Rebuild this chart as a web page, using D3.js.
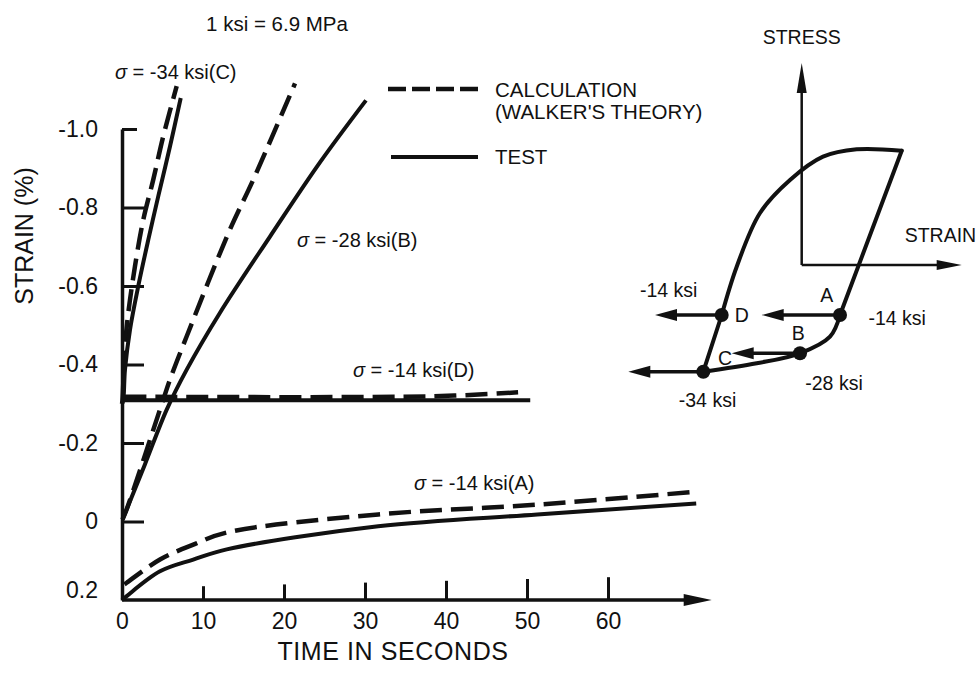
<!DOCTYPE html>
<html>
<head>
<meta charset="utf-8">
<script src="https://cdn.jsdelivr.net/npm/d3@7/dist/d3.min.js"></script>
<style>
  body { margin: 0; background: #fff; }
  svg text { font-family: "Liberation Sans", Arial, sans-serif; fill: #111; }
</style>
</head>
<body>
<div id="chart-container"></div>
<script>
// readings: [time (s), strain (%)], compressive strain is negative
const cTest = [[0, -0.30], [0.16, -0.311], [0.37, -0.387], [0.99, -0.489], [2.01, -0.600], [3.25, -0.718], [4.48, -0.829], [5.93, -0.956], [7.25, -1.079]]
const cCalc = [[0, -0.30], [0.06, -0.31], [0.37, -0.447], [0.78, -0.532], [1.60, -0.650], [2.63, -0.769], [3.86, -0.871], [5.10, -0.982], [6.75, -1.109]]
const bTest = [[0.06, -0.005], [0.58, -0.031], [2.84, -0.146], [5.52, -0.285], [7.99, -0.387], [12.10, -0.532], [18.27, -0.726], [24.44, -0.915], [30.12, -1.073]]
const bCalc = [[0.06, -0.005], [0.58, -0.031], [5.10, -0.311], [5.93, -0.362], [7.99, -0.472], [13.33, -0.744], [16.21, -0.871], [21.36, -1.116]]
const dTest = [[0, -0.309], [50.4, -0.309]]
const dCalc = [[0.3, -0.318], [38.4, -0.319], [48.9, -0.329]]
const aTest = [[0, 0.200], [0.58, 0.190], [4.69, 0.127], [8.80, 0.097], [12.93, 0.071], [31.63, 0.012], [51.26, -0.018], [70.89, -0.046]]
const aCalc = [[0.3, 0.160], [0.58, 0.156], [4.69, 0.097], [8.80, 0.059], [12.93, 0.028], [31.63, -0.018], [51.26, -0.043], [70.89, -0.076]]

const xTicks = [0, 10, 20, 30, 40, 50, 60]
const yTicks = [0.2, 0, -0.2, -0.4, -0.6, -0.8, -1.0]

// inset hysteresis loop, schematic [strain, stress] units
const loopCD = [[-9.84, -10.67], [-8.0, -5.0]]
const loopUpper = [[-8.0, -5.0], [-6.5, -0.17], [-4.17, 5.2], [-1.17, 8.5], [2.13, 10.83], [5.5, 11.57], [10.0, 11.43]]
const loopUnload = [[10.0, 11.43], [3.83, -5.0]]
const loopLower = [[3.83, -5.0], [2.83, -7.17], [-0.17, -8.83], [-4.5, -9.83], [-9.84, -10.67]]
const holdNames = ['A', 'B', 'C', 'D']
const holdPoints = [[3.83, -5.0], [-0.17, -8.83], [-9.84, -10.67], [-8.0, -5.0]]
const holdArrowEnds = [-4.0, -7.0, -17.34, -14.67]

const width = 980
const height = 674

const svg = d3.select('#chart-container')
  .append('svg')
  .attr('width', width)
  .attr('height', height)

const x = d3.scaleLinear().domain([0, 60]).range([122, 608])
const y = d3.scaleLinear().domain([0.2, -1.0]).range([600, 129])

const line = d3.line()
  .x(d => x(d[0]))
  .y(d => y(d[1]))
  .curve(d3.curveCatmullRom.alpha(0.5))

function arrowHead (g, tipX, tipY, dir, len, half) {
  // dir: 'left' | 'right' | 'up'
  let pts
  if (dir === 'right') pts = [[tipX, tipY], [tipX - len, tipY - half], [tipX - len, tipY + half]]
  else if (dir === 'left') pts = [[tipX, tipY], [tipX + len, tipY - half], [tipX + len, tipY + half]]
  else pts = [[tipX, tipY], [tipX - half, tipY + len], [tipX + half, tipY + len]]
  g.append('path')
    .attr('class', 'head')
    .attr('d', 'M' + pts.join('L') + 'Z')
    .attr('fill', '#111')
    .attr('stroke', 'none')
}

// ---- axes
const yAxis = d3.axisLeft(y)
  .tickValues(yTicks)
  .tickSizeInner(-22)
  .tickSizeOuter(0)
  .tickPadding(24)
  .tickFormat(d => d === 0 ? '0' : d.toFixed(1))

const gy = svg.append('g')
  .attr('transform', 'translate(122,0)')
  .call(yAxis)
gy.select('.domain').attr('stroke', '#111').attr('stroke-width', 3.5)
gy.selectAll('.tick line').attr('stroke', '#111').attr('stroke-width', 3)
gy.selectAll('.tick').filter(d => d === -1.0).select('line').attr('x2', 15)
gy.selectAll('.tick text')
  .attr('font-size', 23)
  .attr('font-family', '"Liberation Sans", Arial, sans-serif')
  .attr('fill', '#111')
gy.selectAll('.tick').filter(d => d === 0.2).select('text').attr('y', -10)
gy.selectAll('.tick').filter(d => d === 0.2).select('line').remove()

const xAxis = d3.axisBottom(x)
  .tickValues(xTicks)
  .tickSizeInner(-15)
  .tickSizeOuter(0)
  .tickPadding(13)
  .tickFormat(d3.format('d'))

const gx = svg.append('g')
  .attr('transform', 'translate(0,600)')
  .call(xAxis)
gx.select('.domain').remove()
gx.selectAll('.tick line')
  .attr('stroke', '#111').attr('stroke-width', 3)
  .attr('y2', (d, i) => -(12 + i * 1.8))
gx.selectAll('.tick').filter(d => d === 0).select('line').remove()
gx.selectAll('.tick text')
  .attr('font-size', 23)
  .attr('font-family', '"Liberation Sans", Arial, sans-serif')
  .attr('fill', '#111')

const xEnd = 72.8
svg.append('line')
  .attr('x1', x(0)).attr('x2', x(xEnd) - 20)
  .attr('y1', y(0.2)).attr('y2', y(0.2))
  .attr('stroke', '#111').attr('stroke-width', 3.5)
arrowHead(svg, x(xEnd), y(0.2), 'right', 28, 6)

svg.append('text')
  .attr('transform', 'translate(24,236) rotate(-90)')
  .attr('text-anchor', 'middle')
  .attr('dominant-baseline', 'central')
  .attr('font-size', 25)
  .text('STRAIN (%)')

svg.append('text')
  .attr('x', 393).attr('y', 651)
  .attr('text-anchor', 'middle')
  .attr('dominant-baseline', 'central')
  .attr('font-size', 25)
  .attr('letter-spacing', 0.6)
  .text('TIME IN SECONDS')

// ---- curves
const curves = [
  {data: aCalc, dash: true}, {data: aTest, dash: false},
  {data: dCalc, dash: true}, {data: dTest, dash: false},
  {data: bCalc, dash: true}, {data: bTest, dash: false},
  {data: cCalc, dash: true}, {data: cTest, dash: false}
]

svg.append('g').selectAll('path')
  .data(curves)
  .enter()
  .append('path')
  .attr('d', d => line(d.data))
  .attr('fill', 'none')
  .attr('stroke', '#111')
  .attr('stroke-width', d => d.dash ? 4.5 : 4)
  .attr('stroke-dasharray', d => d.dash ? '22,9' : null)

// ---- labels
function sigmaLabel (px, py, rest) {
  const t = svg.append('text')
    .attr('x', px).attr('y', py)
    .attr('dominant-baseline', 'central')
    .attr('font-size', 20)
  t.append('tspan').attr('font-style', 'italic').text('σ')
  t.append('tspan').text(' = ' + rest)
}
sigmaLabel(115, 72, '-34 ksi(C)')
sigmaLabel(297, 240, '-28 ksi(B)')
sigmaLabel(353, 370, '-14 ksi(D)')
sigmaLabel(414, 483, '-14 ksi(A)')

svg.append('text')
  .attr('x', 277).attr('y', 23)
  .attr('text-anchor', 'middle')
  .attr('dominant-baseline', 'central')
  .attr('font-size', 20.5)
  .text('1 ksi = 6.9 MPa')

// ---- legend
svg.append('line')
  .attr('x1', 388).attr('x2', 478).attr('y1', 89).attr('y2', 89)
  .attr('stroke', '#111').attr('stroke-width', 4.5)
  .attr('stroke-dasharray', '18,6')
svg.append('line')
  .attr('x1', 391).attr('x2', 478).attr('y1', 157).attr('y2', 157)
  .attr('stroke', '#111').attr('stroke-width', 4)

const legendText = [['CALCULATION', 89], ["(WALKER'S THEORY)", 111], ['TEST', 156]]
svg.selectAll('.legtext')
  .data(legendText)
  .enter()
  .append('text')
  .attr('class', 'legtext')
  .attr('x', 495)
  .attr('y', d => d[1])
  .attr('dominant-baseline', 'central')
  .attr('font-size', 20.5)
  .text(d => d[0])

// ---- inset: hysteresis loop
const ix = d3.scaleLinear().domain([0, 10]).range([801.7, 901.7])
const iy = d3.scaleLinear().domain([0, 10]).range([265, 165])
const inset = svg.append('g')

inset.append('line')
  .attr('x1', ix(0)).attr('x2', ix(0))
  .attr('y1', iy(0)).attr('y2', iy(20.2) + 20)
  .attr('stroke', '#111').attr('stroke-width', 2.5)
arrowHead(inset, ix(0), iy(20.2), 'up', 30, 5)
inset.append('line')
  .attr('x1', ix(0)).attr('x2', ix(16) - 20)
  .attr('y1', iy(0)).attr('y2', iy(0))
  .attr('stroke', '#111').attr('stroke-width', 2.5)
arrowHead(inset, ix(16), iy(0), 'right', 25, 5)

const iLine = d3.line().x(d => ix(d[0])).y(d => iy(d[1]))
const iCurve = d3.line().x(d => ix(d[0])).y(d => iy(d[1])).curve(d3.curveCatmullRom.alpha(0.5))
const loopPaths = [iLine(loopCD), iCurve(loopUpper), iLine(loopUnload), iCurve(loopLower)]
inset.selectAll('.loop')
  .data(loopPaths)
  .enter()
  .append('path')
  .attr('class', 'loop')
  .attr('d', d => d)
  .attr('fill', 'none').attr('stroke', '#111')
  .attr('stroke-width', 4).attr('stroke-linejoin', 'round').attr('stroke-linecap', 'round')

holdPoints.forEach((p, i) => {
  const endX = ix(holdArrowEnds[i])
  inset.append('line')
    .attr('x1', ix(p[0])).attr('x2', endX + 18)
    .attr('y1', iy(p[1])).attr('y2', iy(p[1]))
    .attr('stroke', '#111').attr('stroke-width', 3.5)
  arrowHead(inset, endX, iy(p[1]), 'left', 22, 6)
})

inset.selectAll('circle')
  .data(holdPoints)
  .enter()
  .append('circle')
  .attr('cx', d => ix(d[0]))
  .attr('cy', d => iy(d[1]))
  .attr('r', 7)
  .attr('fill', '#111')

const insetText = [
  ['STRESS', 0, 22.8, 'middle'],
  ['STRAIN', 10.3, 3.0, 'start'],
  ['-14 ksi', -13.3, -2.5, 'middle'],
  ['-14 ksi', 9.55, -5.3, 'middle'],
  ['-28 ksi', 3.23, -11.8, 'middle'],
  ['-34 ksi', -9.42, -13.5, 'middle'],
  ['A', 2.5, -3.0, 'middle'],
  ['B', -0.34, -6.83, 'middle'],
  ['C', -7.67, -9.33, 'middle'],
  ['D', -6.0, -5.0, 'middle']
]
inset.selectAll('text')
  .data(insetText)
  .enter()
  .append('text')
  .attr('x', d => ix(d[1]))
  .attr('y', d => iy(d[2]))
  .attr('text-anchor', d => d[3])
  .attr('dominant-baseline', 'central')
  .attr('font-size', 19.5)
  .text(d => d[0])
</script>
</body>
</html>
